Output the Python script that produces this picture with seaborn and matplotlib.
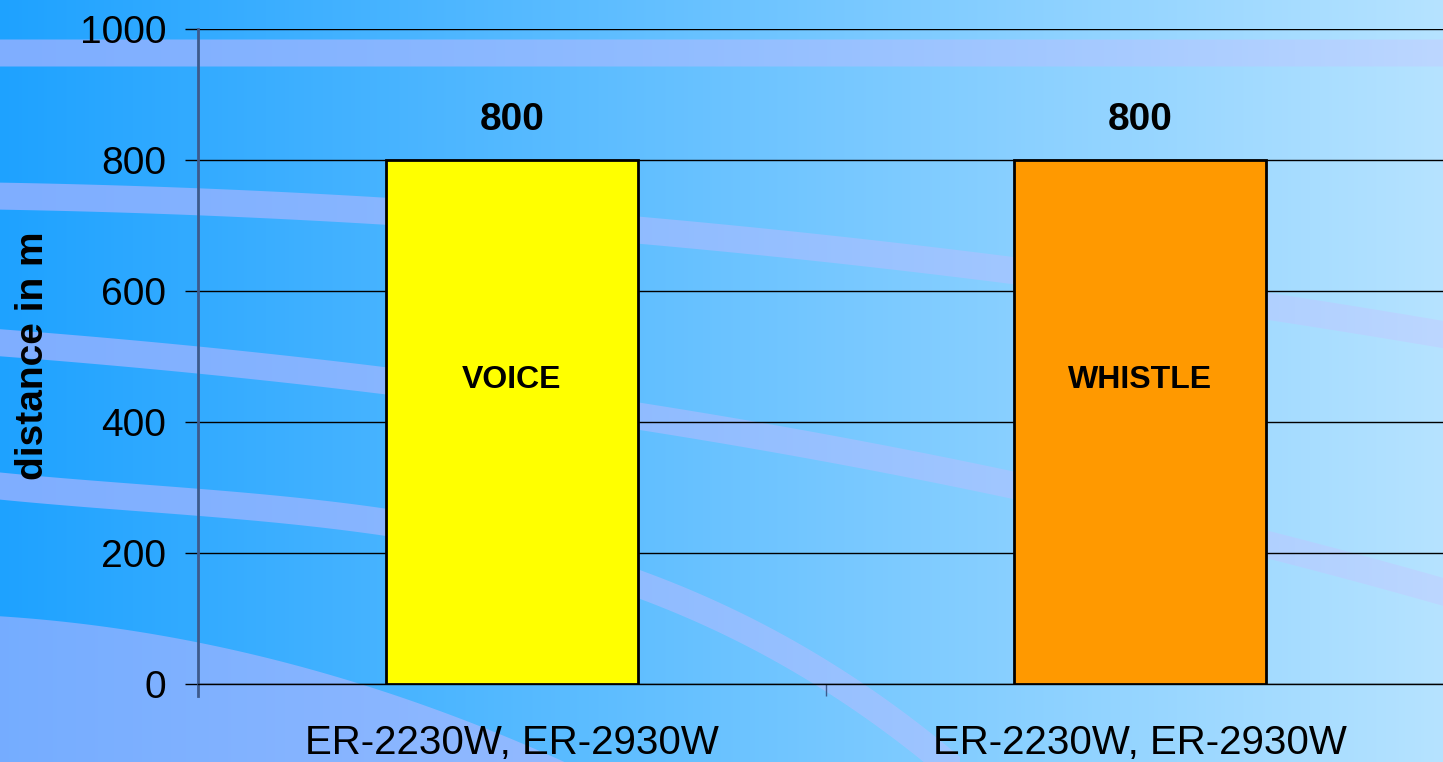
import matplotlib
matplotlib.use("Agg")
import matplotlib.pyplot as plt
import numpy as np
import seaborn as sns

# ---------------------------- data ----------------------------
modes = ["VOICE", "WHISTLE"]
distances = [800, 800]
models = ["ER-2230W, ER-2930W", "ER-2230W, ER-2930W"]
bar_colors = ["#FFFF00", "#FF9900"]
y_ticks = [0, 200, 400, 600, 800, 1000]

W, H = 1443, 762

sns.set_theme(style="white")
plt.rcParams["font.family"] = ["Liberation Sans", "DejaVu Sans"]
plt.rcParams.update({"text.color": "black", "axes.labelcolor": "black",
                     "xtick.color": "black", "ytick.color": "black"})

fig = plt.figure(figsize=(W / 100, H / 100), dpi=100)

# ---------------------------- background ----------------------------
# horizontal blue gradient with pale curved streaks, rasterised
left_c = np.array([30, 162, 255]) / 255
right_c = np.array([182, 227, 255]) / 255
streak = np.array([0.80, 0.72, 1.0])
px = np.arange(W) + 0.5
py = (np.arange(H) + 0.5)[:, None]
f = (px / W)[None, :, None]
img = np.broadcast_to(left_c * (1 - f) + right_c * f, (H, W, 3)).copy()
alpha_x = np.interp(px, [0, W], [0.56, 0.28])[None, :]


def band(pts, half=13.5):
    pts = np.array(pts, dtype=float)
    coef = np.polyfit(pts[:, 0], pts[:, 1], min(3, len(pts) - 1))
    cy = np.polyval(coef, px)
    slope = np.polyval(np.polyder(coef), px)
    hw = half * np.sqrt(1 + slope ** 2)
    d = np.abs(py - cy[None, :]) - hw[None, :]
    cover = np.clip(0.5 - d, 0, 1)
    cover[:, (px < pts[0, 0]) | (px > pts[-1, 0])] = 0
    a = (cover * alpha_x)[..., None]
    img[:] = img * (1 - a) + streak * a


band([(-20, 53), (700, 53), (W + 20, 53)])
band([(-20, 196), (385, 210), (640, 232), (1000, 268), (1265, 306), (W + 20, 338)])
band([(-20, 341), (385, 382), (640, 415), (1013, 485), (1265, 545), (W + 20, 597)])
band([(-20, 484), (385, 522), (640, 585), (840, 684), (960, 775)])

edge = np.polyval(np.polyfit([-20, 200, 407, 570, 620],
                             [615, 643, 700, 762, 790], 2), px)
edge[px > 620] = H + 100
fill = np.clip(py - edge[None, :] + 0.5, 0, 1)[..., None] * 0.5
img[:] = img * (1 - fill) + streak * fill

bg = fig.add_axes([0, 0, 1, 1], zorder=-1)
bg.imshow(img, extent=[0, W, H, 0], aspect="auto", interpolation="nearest")
bg.axis("off")

# ---------------------------- chart ----------------------------
ax = fig.add_axes([198 / W, 78 / H, 1256 / W, 655 / H])
ax.patch.set_alpha(0)

sns.barplot(x=modes, y=distances, hue=modes, palette=bar_colors, width=0.4,
            saturation=1, edgecolor="black", linewidth=2, legend=False,
            ax=ax, zorder=3)

for cont in ax.containers:
    ax.bar_label(cont, fmt="%d", padding=16, fontsize=28, fontweight="bold",
                 color="black")
for i, (m, d) in enumerate(zip(modes, distances)):
    ax.text(i, d * 0.58, m, ha="center", va="center", fontsize=23,
            fontweight="bold", color="black", zorder=4)

ax.set_xlim(-0.5, 1.5)
ax.set_ylim(0, 1000)
ax.set_yticks(y_ticks)
ax.yaxis.grid(True, color="black", lw=1)
ax.set_axisbelow(True)
ax.set_xticks(range(len(models)))
ax.set_xticklabels(models, fontsize=29)
ax.set_xticks([0.5], minor=True)
ax.tick_params(axis="y", labelsize=28, length=9.4, width=1, color="black",
               pad=13.5, left=True)
ax.tick_params(axis="x", which="major", length=0, pad=29)
ax.tick_params(axis="x", which="minor", length=8.6, width=1,
               color="#3d5a8c", bottom=True)
ax.set_xlabel("")
ax.set_ylabel("")

for s in ["top", "right"]:
    ax.spines[s].set_visible(False)
ax.spines["bottom"].set_color("black")
ax.spines["bottom"].set_linewidth(1)
ax.spines["left"].set_color("#3d5a8c")
ax.spines["left"].set_linewidth(2)
ax.spines["left"].set_bounds(-18, 1000)

fig.text(33 / W, 1 - 356 / H, "distance in m", rotation=90, ha="center",
         va="center", fontsize=28, fontweight="bold", color="black")

fig.savefig("out.png", dpi=100)
